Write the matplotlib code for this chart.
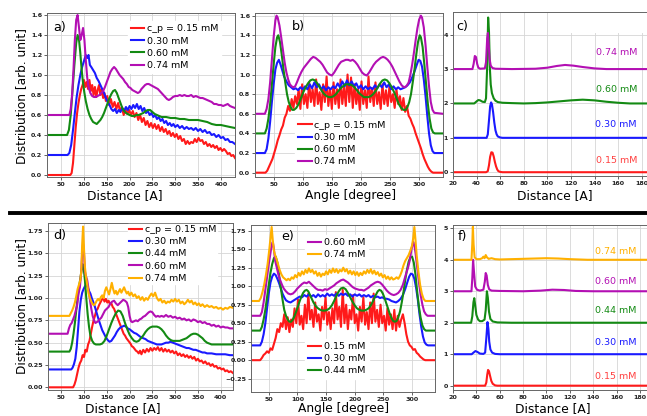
import matplotlib
matplotlib.use("Agg")
import matplotlib.pyplot as plt
from matplotlib.lines import Line2D
from matplotlib.patches import Rectangle

W, H = 647, 416
RED, BLUE, GREEN, PURPLE, ORANGE = "#ff1a1a", "#1a1aff", "#138a13", "#b30fb3", "#ffb000"
LW = 1.5

# ---------- panel a: distance distributions, first series ----------
A_X_015 = [19, 70, 73, 76, 79, 82, 85, 88, 91, 94, 97, 100, 103, 106, 109, 112, 115, 118, 121, 124,
           127, 130, 133, 136, 139, 142, 145, 148, 151, 155, 159, 163, 167, 171, 175, 179, 183, 187,
           191, 195, 199, 203, 207, 211, 215, 219, 223, 227, 231, 235, 239, 243, 247, 251, 255, 259,
           263, 267, 271, 275, 279, 283, 287, 291, 295, 299, 303, 307, 311, 315, 319, 323, 327, 331,
           335, 339, 343, 347, 351, 355, 359, 363, 367, 371, 375, 379, 383, 387, 391, 395, 399, 403,
           407, 411, 415, 419, 423, 427, 431]
A_Y_015 = [0, 0, 0.02, 0.12, 0.3, 0.48, 0.62, 0.72, 0.8, 0.86, 0.9, 0.95, 0.88, 0.93, 0.86, 0.95, 0.84,
           0.9, 0.8, 0.88, 0.78, 0.85, 0.9, 0.8, 0.86, 0.77, 0.82, 0.74, 0.79, 0.7, 0.76, 0.68, 0.73,
           0.66, 0.72, 0.64, 0.68, 0.6, 0.66, 0.61, 0.65, 0.6, 0.64, 0.58, 0.62, 0.55, 0.6, 0.53, 0.57,
           0.5, 0.54, 0.48, 0.52, 0.47, 0.51, 0.46, 0.5, 0.44, 0.48, 0.43, 0.46, 0.41, 0.44, 0.39, 0.42,
           0.38, 0.41, 0.36, 0.39, 0.34, 0.36, 0.31, 0.34, 0.31, 0.33, 0.32, 0.36, 0.33, 0.37, 0.34,
           0.35, 0.31, 0.33, 0.29, 0.31, 0.28, 0.3, 0.27, 0.29, 0.25, 0.27, 0.24, 0.26, 0.24, 0.21,
           0.22, 0.19, 0.2, 0.17]
A_X_030 = [19, 64, 68, 72, 76, 80, 84, 88, 92, 96, 100, 104, 107, 110, 113, 116, 120, 124, 128, 132,
           136, 140, 144, 148, 152, 156, 160, 164, 168, 172, 176, 180, 184, 188, 192, 196, 200, 204,
           208, 212, 216, 220, 224, 228, 232, 236, 240, 244, 248, 252, 256, 260, 264, 268, 272, 276,
           280, 284, 288, 292, 296, 300, 305, 310, 315, 320, 325, 330, 335, 340, 345, 350, 355, 360,
           365, 370, 375, 380, 385, 390, 395, 400, 405, 410, 415, 420, 425, 431]
A_Y_030 = [0.2, 0.2, 0.22, 0.3, 0.45, 0.62, 0.78, 0.9, 1.0, 1.08, 1.14, 1.2, 1.17, 1.2, 1.1, 1.08, 1.05,
           1.02, 0.97, 0.94, 0.9, 0.86, 0.82, 0.77, 0.73, 0.7, 0.66, 0.64, 0.66, 0.62, 0.65, 0.63,
           0.67, 0.64, 0.68, 0.65, 0.69, 0.66, 0.7, 0.67, 0.71, 0.66, 0.69, 0.64, 0.67, 0.62, 0.64,
           0.6, 0.62, 0.58, 0.6, 0.56, 0.58, 0.54, 0.56, 0.52, 0.54, 0.5, 0.52, 0.49, 0.51, 0.48,
           0.5, 0.47, 0.49, 0.46, 0.48, 0.46, 0.47, 0.45, 0.47, 0.44, 0.46, 0.43, 0.45, 0.42, 0.43,
           0.4, 0.41, 0.38, 0.4, 0.37, 0.38, 0.35, 0.36, 0.33, 0.33, 0.31]
A_X_060 = [19, 63, 67, 71, 75, 79, 83, 86, 89, 92, 95, 98, 101, 104, 108, 112, 116, 120, 124, 128, 132,
           136, 140, 144, 148, 152, 156, 160, 164, 168, 172, 176, 180, 184, 188, 192, 196, 200, 205,
           210, 215, 220, 225, 230, 235, 240, 245, 250, 255, 260, 265, 270, 280, 290, 300, 310, 320,
           330, 340, 350, 360, 370, 380, 390, 400, 410, 420, 431]
A_Y_060 = [0.4, 0.4, 0.45, 0.6, 0.85, 1.1, 1.32, 1.4, 1.36, 1.22, 1.05, 0.92, 0.82, 0.74, 0.66, 0.6,
           0.56, 0.53, 0.52, 0.51, 0.53, 0.55, 0.58, 0.62, 0.67, 0.72, 0.77, 0.81, 0.84, 0.85, 0.82,
           0.77, 0.72, 0.67, 0.64, 0.62, 0.61, 0.6, 0.59, 0.59, 0.6, 0.6, 0.61, 0.62, 0.64, 0.65,
           0.65, 0.63, 0.61, 0.6, 0.59, 0.58, 0.58, 0.57, 0.57, 0.56, 0.56, 0.55, 0.55, 0.55, 0.54,
           0.53, 0.51, 0.5, 0.5, 0.49, 0.48, 0.47]
A_X_074 = [19, 68, 71, 74, 77, 80, 83, 86, 89, 92, 95, 98, 101, 104, 107, 110, 114, 118, 122, 126, 130,
           134, 138, 142, 146, 150, 154, 158, 162, 166, 170, 174, 178, 182, 186, 190, 194, 198, 202,
           206, 210, 214, 218, 222, 226, 230, 234, 238, 242, 246, 250, 254, 258, 262, 266, 270, 274,
           278, 282, 286, 290, 295, 300, 305, 310, 315, 320, 325, 330, 335, 340, 345, 350, 355, 360,
           365, 370, 375, 380, 385, 390, 395, 400, 405, 410, 415, 420, 425, 431]
A_Y_074 = [0.6, 0.6, 0.66, 0.8, 1.05, 1.35, 1.55, 1.6, 1.48, 1.35, 1.4, 1.47, 1.35, 1.15, 0.98, 0.88,
           0.82, 0.79, 0.78, 0.78, 0.79, 0.8, 0.82, 0.84, 0.88, 0.93, 0.98, 1.03, 1.06, 1.08, 1.06,
           1.03, 1.0, 0.98, 0.96, 0.93, 0.91, 0.88, 0.87, 0.85, 0.84, 0.83, 0.82, 0.83, 0.86, 0.88,
           0.9, 0.91, 0.91, 0.9, 0.89, 0.88, 0.87, 0.86, 0.84, 0.82, 0.8, 0.78, 0.76, 0.75, 0.76,
           0.78, 0.79, 0.79, 0.8, 0.79, 0.8, 0.79, 0.79, 0.8, 0.78, 0.79, 0.78, 0.77, 0.77, 0.76,
           0.75, 0.74, 0.73, 0.71, 0.71, 0.7, 0.7, 0.69, 0.7, 0.71, 0.69, 0.68, 0.67]

# ---------- panel b: angle distributions, first series ----------
B_X_015 = [18, 36, 39, 42, 45, 48, 51, 54, 57, 60, 63, 66, 69, 72, 75, 78, 81, 84, 87, 90, 93, 96, 99,
           102, 105, 108, 111, 114, 117, 120, 123, 126, 129, 132, 135, 138, 141, 144, 147, 150, 153,
           156, 159, 162, 165, 168, 171, 174, 177, 180, 183, 186, 189, 192, 195, 198, 201, 204, 207,
           210, 213, 216, 219, 222, 225, 228, 231, 234, 237, 240, 243, 246, 249, 252, 255, 258, 261,
           264, 267, 270, 273, 276, 279, 282, 285, 288, 291, 294, 297, 300, 303, 306, 309, 312, 315,
           318, 321, 324, 341]
B_Y_015 = [0, 0, 0.02, 0.06, 0.1, 0.14, 0.2, 0.26, 0.33, 0.38, 0.44, 0.48, 0.56, 0.6, 0.68, 0.63, 0.75,
           0.66, 0.78, 0.7, 0.85, 0.65, 0.9, 0.7, 0.8, 0.66, 0.92, 0.72, 0.85, 0.68, 0.95, 0.7, 0.82,
           0.64, 0.9, 0.72, 0.98, 0.68, 0.85, 0.65, 0.92, 0.7, 0.85, 0.66, 0.95, 0.7, 0.88, 0.68, 1.0,
           0.72, 0.97, 0.66, 0.9, 0.7, 0.85, 0.64, 0.93, 0.7, 0.84, 0.66, 0.98, 0.72, 0.86, 0.68,
           0.92, 0.7, 0.82, 0.65, 0.9, 0.7, 0.84, 0.68, 0.88, 0.72, 0.8, 0.66, 0.85, 0.7, 0.78, 0.64,
           0.76, 0.62, 0.68, 0.58, 0.55, 0.5, 0.46, 0.4, 0.35, 0.3, 0.25, 0.19, 0.14, 0.1, 0.06, 0.03,
           0.01, 0, 0]
B_X_030 = [18, 35, 38, 41, 44, 47, 50, 53, 56, 59, 62, 65, 68, 72, 76, 80, 84, 88, 92, 96, 100, 104,
           108, 112, 116, 120, 124, 128, 132, 136, 140, 144, 148, 152, 156, 160, 164, 168, 172, 176,
           180, 184, 188, 192, 196, 200, 204, 208, 212, 216, 220, 224, 228, 232, 236, 240, 244, 248,
           252, 256, 260, 264, 268, 272, 276, 280, 284, 288, 292, 296, 299, 302, 305, 308, 311, 314,
           317, 320, 323, 326, 341]
B_Y_030 = [0.2, 0.2, 0.24, 0.35, 0.52, 0.72, 0.9, 1.05, 1.12, 1.15, 1.1, 1.04, 0.98, 0.93, 0.89, 0.87,
           0.85, 0.86, 0.84, 0.87, 0.85, 0.88, 0.85, 0.9, 0.86, 0.92, 0.87, 0.9, 0.85, 0.88, 0.84,
           0.87, 0.85, 0.88, 0.86, 0.91, 0.87, 0.93, 0.88, 0.94, 0.89, 0.93, 0.88, 0.91, 0.86, 0.89,
           0.85, 0.88, 0.85, 0.87, 0.85, 0.89, 0.86, 0.9, 0.87, 0.92, 0.87, 0.9, 0.85, 0.88, 0.85,
           0.87, 0.85, 0.86, 0.87, 0.89, 0.92, 0.97, 1.03, 1.1, 1.15, 1.14, 1.08, 0.95, 0.78, 0.58,
           0.4, 0.28, 0.22, 0.2, 0.2]
B_X_060 = [18, 35, 38, 41, 44, 47, 50, 53, 56, 58, 61, 64, 67, 70, 73, 76, 79, 82, 85, 89, 93, 97, 101,
           105, 109, 113, 117, 121, 125, 129, 133, 137, 141, 145, 149, 153, 157, 161, 165, 169, 173,
           177, 181, 185, 189, 193, 197, 201, 205, 209, 213, 217, 221, 225, 229, 233, 237, 241, 245,
           249, 253, 257, 261, 265, 269, 273, 277, 280, 283, 286, 289, 292, 295, 298, 301, 303, 306,
           309, 312, 315, 318, 321, 324, 327, 341]
B_Y_060 = [0.4, 0.4, 0.45, 0.55, 0.7, 0.9, 1.1, 1.28, 1.38, 1.4, 1.33, 1.2, 1.05, 0.92, 0.8, 0.72, 0.67,
           0.64, 0.64, 0.66, 0.7, 0.76, 0.82, 0.87, 0.91, 0.94, 0.95, 0.94, 0.91, 0.87, 0.83, 0.8,
           0.78, 0.77, 0.77, 0.78, 0.8, 0.83, 0.86, 0.88, 0.9, 0.9, 0.9, 0.89, 0.87, 0.84, 0.81,
           0.79, 0.77, 0.77, 0.77, 0.78, 0.8, 0.83, 0.87, 0.91, 0.94, 0.95, 0.94, 0.91, 0.87, 0.82,
           0.76, 0.7, 0.66, 0.64, 0.64, 0.67, 0.72, 0.8, 0.92, 1.05, 1.2, 1.33, 1.4, 1.38, 1.28, 1.1,
           0.9, 0.7, 0.55, 0.45, 0.41, 0.4, 0.4]
B_X_074 = [18, 35, 38, 41, 44, 47, 50, 53, 55, 57, 60, 63, 66, 69, 72, 75, 78, 81, 84, 87, 90, 94, 98,
           102, 106, 110, 114, 118, 122, 126, 130, 134, 138, 142, 146, 150, 154, 158, 162, 166, 170,
           174, 178, 182, 186, 190, 194, 198, 202, 206, 210, 214, 218, 222, 226, 230, 234, 238, 242,
           246, 250, 254, 258, 262, 266, 270, 274, 278, 282, 285, 288, 291, 294, 297, 300, 303, 305,
           308, 311, 314, 317, 320, 323, 326, 341]
B_Y_074 = [0.6, 0.6, 0.65, 0.75, 0.92, 1.15, 1.38, 1.55, 1.6, 1.58, 1.5, 1.38, 1.25, 1.12, 1.02, 0.95,
           0.9, 0.88, 0.87, 0.88, 0.92, 0.98, 1.03, 1.07, 1.1, 1.13, 1.16, 1.18, 1.17, 1.15, 1.13,
           1.1, 1.06, 1.02, 1.0, 0.99, 1.02, 1.06, 1.1, 1.13, 1.14, 1.15, 1.15, 1.14, 1.15, 1.13,
           1.1, 1.06, 1.02, 1.0, 0.99, 1.02, 1.06, 1.1, 1.13, 1.15, 1.17, 1.18, 1.17, 1.15, 1.12,
           1.08, 1.03, 0.98, 0.93, 0.89, 0.87, 0.88, 0.92, 1.0, 1.1, 1.22, 1.35, 1.47, 1.56, 1.6,
           1.58, 1.48, 1.3, 1.08, 0.88, 0.72, 0.64, 0.61, 0.6]

# ---------- panel c: distance peaks, first series ----------
C_X_015 = [20, 48, 49.5, 50.5, 51.5, 52.5, 53.5, 54.5, 55.5, 56.5, 57.5, 58.5, 60, 62, 185]
C_Y_015 = [0, 0, 0.03, 0.2, 0.45, 0.58, 0.57, 0.46, 0.3, 0.17, 0.08, 0.03, 0.01, 0, 0]
C_X_030 = [20, 48.5, 49.5, 50.5, 51.5, 52.3, 53, 54, 55, 56, 57, 58, 60, 62, 185]
C_Y_030 = [1, 1, 1.1, 1.5, 1.92, 2.03, 1.98, 1.75, 1.45, 1.22, 1.1, 1.04, 1.01, 1.0, 1.0]
C_X_060 = [20, 38, 40, 41.5, 43, 45, 47, 48, 49, 49.8, 50.5, 51.3, 52, 53, 54.5, 56, 58, 62, 70, 80,
           90, 100, 110, 120, 130, 140, 150, 160, 170, 185]
C_Y_060 = [2, 2, 2.06, 2.1, 2.09, 2.05, 2.04, 2.15, 3.1, 4.5, 4.1, 3.0, 2.55, 2.3, 2.15, 2.08, 2.04,
           2.02, 2.01, 2.0, 2.01, 2.03, 2.06, 2.09, 2.11, 2.09, 2.05, 2.02, 2.0, 2.0]
C_X_074 = [20, 36.5, 37.5, 38.5, 39.5, 40.5, 41.5, 43, 47, 48, 49, 49.6, 50.3, 51, 52, 53.5, 56, 70,
           90, 100, 108, 115, 122, 130, 140, 150, 185]
C_Y_074 = [3, 3, 3.15, 3.38, 3.35, 3.15, 3.04, 3.01, 3.02, 3.2, 3.9, 4.05, 3.7, 3.3, 3.1, 3.03, 3.01,
           3.0, 3.01, 3.04, 3.09, 3.12, 3.1, 3.06, 3.02, 3.0, 3.0]

# ---------- panel d: distance distributions, second series ----------
D_X_015 = [21, 76, 79, 82, 85, 88, 91, 94, 97, 100, 103, 106, 109, 112, 115, 118, 121, 124, 127, 130,
           133, 136, 139, 142, 145, 148, 151, 154, 157, 160, 163, 166, 169, 172, 175, 178, 181, 184,
           187, 190, 193, 196, 199, 202, 205, 208, 211, 214, 217, 220, 223, 226, 230, 234, 238, 242,
           246, 250, 254, 258, 262, 266, 270, 274, 278, 282, 286, 290, 294, 298, 302, 306, 310, 314,
           318, 322, 326, 330, 334, 338, 342, 346, 350, 354, 358, 362, 366, 370, 374, 378, 382, 386,
           390, 394, 398, 402, 406, 410, 414, 418, 422, 427]
D_Y_015 = [0, 0, 0.03, 0.08, 0.15, 0.22, 0.27, 0.3, 0.36, 0.34, 0.42, 0.4, 0.48, 0.52, 0.6, 0.68, 0.75,
           0.8, 0.86, 0.88, 0.92, 0.95, 0.98, 1.0, 0.96, 0.99, 0.95, 0.97, 0.93, 0.94, 0.9, 0.88,
           0.84, 0.8, 0.76, 0.72, 0.68, 0.64, 0.6, 0.58, 0.55, 0.53, 0.51, 0.49, 0.46, 0.45, 0.43,
           0.41, 0.4, 0.38, 0.41, 0.37, 0.42, 0.39, 0.43, 0.4, 0.44, 0.41, 0.44, 0.42, 0.45, 0.41,
           0.44, 0.4, 0.43, 0.4, 0.42, 0.39, 0.41, 0.38, 0.4, 0.36, 0.38, 0.35, 0.37, 0.34, 0.36,
           0.33, 0.35, 0.32, 0.34, 0.3, 0.32, 0.29, 0.3, 0.27, 0.29, 0.26, 0.27, 0.24, 0.26, 0.23,
           0.24, 0.21, 0.22, 0.2, 0.21, 0.18, 0.19, 0.17, 0.18, 0.16]
D_X_030 = [21, 72, 75, 78, 81, 84, 87, 90, 93, 96, 99, 102, 105, 108, 111, 114, 117, 120, 124, 128, 132,
           136, 140, 144, 148, 152, 156, 160, 164, 168, 172, 176, 180, 184, 188, 192, 196, 200, 205,
           210, 215, 220, 225, 230, 235, 240, 245, 250, 255, 260, 265, 270, 275, 280, 285, 290, 295,
           300, 305, 310, 315, 320, 325, 330, 335, 340, 345, 350, 355, 360, 365, 370, 380, 390, 400,
           410, 420, 427]
D_Y_030 = [0.2, 0.2, 0.22, 0.26, 0.32, 0.45, 0.65, 0.85, 0.98, 1.06, 1.1, 1.13, 1.15, 1.12, 1.08, 1.05,
           1.0, 0.96, 0.9, 0.83, 0.76, 0.7, 0.64, 0.6, 0.56, 0.53, 0.51, 0.52, 0.55, 0.58, 0.62, 0.65,
           0.67, 0.68, 0.69, 0.68, 0.66, 0.65, 0.63, 0.61, 0.6, 0.58, 0.56, 0.55, 0.54, 0.52, 0.51,
           0.5, 0.49, 0.48, 0.48, 0.48, 0.49, 0.5, 0.5, 0.51, 0.5, 0.49, 0.48, 0.47, 0.46, 0.45,
           0.44, 0.44, 0.43, 0.42, 0.42, 0.41, 0.4, 0.39, 0.39, 0.38, 0.38, 0.37, 0.37, 0.37, 0.36,
           0.36]
D_X_044 = [21, 68, 71, 74, 77, 80, 83, 86, 89, 92, 95, 97, 99, 102, 105, 108, 111, 114, 118, 122, 126,
           130, 135, 140, 145, 150, 155, 160, 165, 170, 175, 180, 185, 190, 195, 200, 205, 210, 215,
           220, 225, 230, 235, 240, 245, 250, 255, 260, 265, 270, 275, 280, 285, 290, 295, 300, 305,
           310, 315, 320, 325, 330, 335, 340, 345, 350, 355, 360, 365, 370, 375, 380, 390, 400, 410,
           420, 427]
D_Y_044 = [0.4, 0.4, 0.43, 0.5, 0.6, 0.72, 0.86, 1.0, 1.12, 1.22, 1.32, 1.38, 1.35, 1.2, 1.0, 0.82,
           0.68, 0.58, 0.52, 0.49, 0.48, 0.48, 0.48, 0.49, 0.52, 0.58, 0.65, 0.72, 0.78, 0.83, 0.86,
           0.85, 0.8, 0.72, 0.65, 0.59, 0.55, 0.52, 0.51, 0.52, 0.55, 0.58, 0.62, 0.65, 0.67, 0.68,
           0.68, 0.68, 0.67, 0.65, 0.62, 0.58, 0.55, 0.53, 0.52, 0.52, 0.52, 0.52, 0.53, 0.54, 0.55,
           0.57, 0.59, 0.6, 0.6, 0.59, 0.57, 0.55, 0.52, 0.5, 0.49, 0.48, 0.48, 0.48, 0.48, 0.48,
           0.48]
D_X_060 = [21, 64, 67, 70, 73, 76, 79, 82, 85, 88, 91, 94, 96, 98, 100, 102, 104, 107, 110, 113, 116,
           119, 122, 125, 128, 131, 134, 138, 142, 146, 150, 154, 158, 162, 166, 170, 174, 178, 182,
           186, 190, 194, 197, 200, 203, 206, 210, 214, 218, 222, 226, 230, 234, 238, 242, 246, 250,
           254, 258, 262, 266, 270, 275, 280, 285, 290, 295, 300, 305, 310, 315, 320, 325, 330, 335,
           340, 345, 350, 355, 360, 365, 370, 375, 380, 385, 390, 395, 400, 405, 410, 415, 420, 427]
D_Y_060 = [0.6, 0.6, 0.66, 0.7, 0.72, 0.76, 0.8, 0.86, 0.92, 1.05, 1.12, 1.3, 1.5, 1.6, 1.5, 1.3, 1.25,
           1.2, 1.1, 0.98, 0.88, 0.8, 0.75, 0.72, 0.73, 0.74, 0.76, 0.78, 0.82, 0.86, 0.88, 0.9,
           0.94, 0.96, 0.97, 0.94, 0.92, 0.94, 0.96, 0.98, 0.97, 0.95, 0.9, 0.8, 0.74, 0.73, 0.74,
           0.75, 0.74, 0.76, 0.77, 0.79, 0.8, 0.82, 0.84, 0.85, 0.84, 0.81, 0.79, 0.8, 0.79, 0.8,
           0.79, 0.81, 0.79, 0.8, 0.78, 0.79, 0.77, 0.78, 0.76, 0.77, 0.75, 0.76, 0.74, 0.76, 0.75,
           0.73, 0.74, 0.72, 0.73, 0.71, 0.71, 0.69, 0.7, 0.68, 0.69, 0.67, 0.68, 0.67, 0.67, 0.66,
           0.66]
D_X_074 = [21, 68, 71, 74, 77, 80, 83, 86, 89, 92, 94, 96, 98, 100, 102, 104, 107, 110, 113, 116, 119,
           122, 125, 128, 131, 134, 137, 140, 143, 146, 149, 152, 155, 158, 161, 164, 167, 170, 173,
           176, 179, 182, 185, 188, 191, 194, 197, 200, 204, 208, 212, 216, 220, 224, 228, 232, 236,
           240, 244, 248, 252, 256, 260, 264, 268, 272, 276, 280, 284, 288, 292, 296, 300, 304, 308,
           312, 316, 320, 324, 328, 332, 336, 340, 344, 348, 352, 356, 360, 365, 370, 375, 380, 385,
           390, 395, 400, 405, 410, 415, 420, 427]
D_Y_074 = [0.8, 0.8, 0.83, 0.86, 0.9, 0.95, 1.02, 1.1, 1.15, 1.2, 1.3, 1.6, 1.8, 1.55, 1.35, 1.25, 1.15,
           1.05, 1.0, 0.96, 0.93, 0.92, 0.94, 0.97, 0.99, 0.97, 1.01, 1.03, 1.0, 1.08, 1.12, 1.08,
           1.04, 1.1, 1.17, 1.1, 1.05, 1.08, 1.04, 1.07, 1.1, 1.06, 1.09, 1.12, 1.08, 1.05, 1.07,
           1.03, 1.06, 1.02, 1.04, 1.0, 1.02, 0.98, 1.01, 0.97, 1.0, 0.98, 1.02, 1.05, 1.02, 1.06,
           1.0, 0.97, 0.99, 0.95, 0.97, 0.94, 0.96, 0.95, 0.98, 0.96, 0.99, 0.96, 0.98, 0.94, 0.96,
           0.93, 0.95, 0.98, 0.95, 0.97, 0.93, 0.95, 0.92, 0.94, 0.91, 0.93, 0.9, 0.92, 0.9, 0.91,
           0.89, 0.9, 0.88, 0.89, 0.87, 0.89, 0.88, 0.9, 0.89]

# ---------- panel e: angle distributions, second series ----------
E_X_015 = [19, 35, 38, 41, 44, 47, 50, 53, 56, 59, 62, 65, 68, 71, 74, 77, 80, 83, 86, 89, 92, 95, 98,
           101, 104, 107, 110, 113, 116, 119, 122, 125, 128, 131, 134, 137, 140, 143, 146, 149, 152,
           155, 158, 161, 164, 167, 170, 173, 176, 179, 182, 185, 188, 191, 194, 197, 200, 203, 206,
           209, 212, 215, 218, 221, 224, 227, 230, 233, 236, 239, 242, 245, 248, 251, 254, 257, 260,
           263, 266, 269, 272, 275, 278, 281, 284, 287, 290, 293, 296, 299, 302, 305, 308, 311, 314,
           317, 320, 323, 340]
E_Y_015 = [0, 0, 0.03, 0.07, 0.09, 0.12, 0.1, 0.16, 0.14, 0.22, 0.3, 0.42, 0.38, 0.5, 0.45, 0.62, 0.42,
           0.58, 0.38, 0.55, 0.45, 0.7, 0.5, 0.82, 0.48, 0.6, 0.42, 0.75, 0.5, 0.9, 0.55, 0.68, 0.45,
           0.78, 0.52, 0.62, 0.4, 0.72, 0.55, 0.85, 0.48, 0.65, 0.42, 0.7, 0.5, 0.92, 0.55, 0.72,
           0.45, 0.95, 0.5, 0.75, 0.42, 0.68, 0.55, 0.88, 0.5, 0.62, 0.4, 0.72, 0.52, 0.85, 0.48,
           0.65, 0.42, 0.78, 0.5, 0.9, 0.52, 0.68, 0.45, 0.75, 0.5, 0.6, 0.4, 0.7, 0.48, 0.62, 0.42,
           0.68, 0.4, 0.6, 0.45, 0.55, 0.62, 0.5, 0.35, 0.25, 0.2, 0.18, 0.14, 0.15, 0.1, 0.08, 0.05,
           0.03, 0.01, 0, 0]
E_X_030 = [19, 35, 38, 41, 44, 47, 50, 53, 56, 59, 62, 65, 68, 71, 74, 77, 80, 84, 88, 92, 96, 100, 104,
           108, 112, 116, 120, 124, 128, 132, 136, 140, 144, 148, 152, 156, 160, 164, 168, 172, 176,
           180, 184, 188, 192, 196, 200, 204, 208, 212, 216, 220, 224, 228, 232, 236, 240, 244, 248,
           252, 256, 260, 264, 268, 272, 276, 280, 284, 288, 292, 295, 298, 301, 304, 307, 310, 313,
           316, 319, 322, 325, 328, 340]
E_Y_030 = [0.2, 0.2, 0.25, 0.35, 0.5, 0.7, 0.9, 1.05, 1.13, 1.17, 1.15, 1.1, 1.04, 0.97, 0.9, 0.85, 0.81,
           0.79, 0.78, 0.8, 0.82, 0.84, 0.86, 0.85, 0.88, 0.86, 0.89, 0.86, 0.88, 0.85, 0.89, 0.86,
           0.88, 0.86, 0.9, 0.87, 0.89, 0.87, 0.9, 0.87, 0.9, 0.88, 0.9, 0.87, 0.89, 0.86, 0.89,
           0.87, 0.89, 0.86, 0.88, 0.86, 0.88, 0.85, 0.87, 0.85, 0.86, 0.84, 0.85, 0.83, 0.83, 0.82,
           0.8, 0.79, 0.78, 0.8, 0.83, 0.88, 0.96, 1.06, 1.13, 1.17, 1.16, 1.1, 0.98, 0.82, 0.62,
           0.45, 0.32, 0.24, 0.21, 0.2, 0.2]
E_X_044 = [19, 35, 38, 41, 44, 47, 50, 53, 56, 59, 62, 65, 68, 71, 74, 77, 80, 83, 86, 89, 92, 95, 98,
           101, 104, 107, 110, 113, 116, 119, 122, 125, 128, 132, 136, 140, 144, 148, 152, 156, 160,
           164, 168, 172, 176, 180, 184, 188, 192, 196, 200, 204, 208, 212, 216, 220, 224, 228, 232,
           236, 240, 243, 246, 249, 252, 255, 258, 261, 264, 267, 270, 273, 276, 279, 282, 285, 288,
           291, 294, 297, 300, 303, 306, 309, 312, 315, 318, 321, 324, 340]
E_Y_044 = [0.4, 0.4, 0.45, 0.55, 0.68, 0.85, 1.02, 1.18, 1.3, 1.38, 1.4, 1.32, 1.15, 0.98, 0.82, 0.68,
           0.6, 0.55, 0.52, 0.52, 0.55, 0.6, 0.66, 0.73, 0.8, 0.86, 0.91, 0.94, 0.95, 0.93, 0.88,
           0.83, 0.78, 0.73, 0.7, 0.68, 0.67, 0.67, 0.68, 0.7, 0.74, 0.8, 0.87, 0.93, 0.97, 0.98,
           0.96, 0.91, 0.85, 0.79, 0.74, 0.7, 0.68, 0.67, 0.67, 0.68, 0.7, 0.74, 0.8, 0.87, 0.93,
           0.95, 0.94, 0.9, 0.84, 0.77, 0.7, 0.63, 0.57, 0.53, 0.52, 0.53, 0.58, 0.66, 0.78, 0.92,
           1.08, 1.22, 1.33, 1.39, 1.4, 1.32, 1.15, 0.92, 0.72, 0.57, 0.47, 0.42, 0.4, 0.4]
E_X_060 = [19, 35, 38, 41, 44, 47, 50, 53, 55, 57, 59, 61, 64, 67, 70, 73, 76, 80, 84, 88, 92, 96, 100,
           104, 108, 112, 116, 120, 124, 128, 132, 136, 140, 144, 148, 152, 156, 160, 164, 168, 172,
           176, 180, 184, 188, 192, 196, 200, 204, 208, 212, 216, 220, 224, 228, 232, 236, 240, 244,
           248, 252, 256, 260, 264, 268, 272, 276, 280, 284, 287, 290, 293, 296, 299, 302, 304, 306,
           309, 312, 315, 318, 321, 324, 327, 340]
E_Y_060 = [0.6, 0.6, 0.65, 0.78, 0.95, 1.12, 1.3, 1.45, 1.55, 1.6, 1.5, 1.35, 1.25, 1.15, 1.08, 1.02,
           0.97, 0.93, 0.9, 0.89, 0.9, 0.93, 0.97, 1.0, 1.03, 1.05, 1.04, 1.06, 1.03, 1.0, 0.97, 0.95,
           0.95, 0.94, 0.96, 0.95, 0.97, 0.99, 1.01, 1.04, 1.06, 1.08, 1.09, 1.07, 1.05, 1.02, 0.99,
           0.97, 0.96, 0.95, 0.95, 0.94, 0.96, 0.98, 1.01, 1.03, 1.05, 1.06, 1.05, 1.02, 0.98, 0.94,
           0.91, 0.89, 0.88, 0.89, 0.91, 0.95, 1.02, 1.1, 1.18, 1.25, 1.35, 1.5, 1.6, 1.55, 1.45,
           1.25, 1.05, 0.88, 0.75, 0.66, 0.62, 0.6, 0.6]
E_X_074 = [19, 33, 36, 39, 42, 45, 48, 51, 53, 55, 57, 59, 61, 63, 66, 69, 72, 75, 78, 81, 84, 87, 90,
           93, 96, 99, 102, 105, 108, 111, 114, 117, 120, 123, 126, 129, 132, 135, 138, 141, 144, 147,
           150, 153, 156, 159, 162, 165, 168, 171, 174, 177, 180, 183, 186, 189, 192, 195, 198, 201,
           204, 207, 210, 213, 216, 219, 222, 225, 228, 231, 234, 237, 240, 243, 246, 249, 252, 255,
           258, 261, 264, 267, 270, 273, 276, 279, 282, 285, 288, 291, 294, 297, 300, 302, 304, 306,
           308, 311, 314, 317, 320, 323, 340]
E_Y_074 = [0.8, 0.8, 0.84, 0.92, 1.02, 1.15, 1.3, 1.5, 1.65, 1.8, 1.62, 1.48, 1.42, 1.38, 1.3, 1.22,
           1.16, 1.12, 1.1, 1.08, 1.1, 1.08, 1.12, 1.1, 1.15, 1.12, 1.18, 1.14, 1.2, 1.16, 1.22, 1.18,
           1.24, 1.19, 1.22, 1.17, 1.2, 1.14, 1.18, 1.13, 1.17, 1.15, 1.2, 1.16, 1.22, 1.18, 1.24,
           1.19, 1.23, 1.18, 1.22, 1.2, 1.25, 1.2, 1.23, 1.17, 1.21, 1.16, 1.2, 1.15, 1.19, 1.14,
           1.18, 1.15, 1.2, 1.17, 1.22, 1.18, 1.23, 1.17, 1.21, 1.16, 1.19, 1.14, 1.17, 1.12, 1.15,
           1.1, 1.13, 1.09, 1.12, 1.09, 1.1, 1.12, 1.1, 1.14, 1.2, 1.28, 1.34, 1.38, 1.42, 1.48,
           1.55, 1.65, 1.8, 1.62, 1.42, 1.2, 1.02, 0.9, 0.83, 0.8, 0.8]

# ---------- panel f: distance peaks, second series ----------
F_X_015 = [20, 47.5, 48.5, 49.3, 50, 50.8, 51.8, 52.8, 54, 56, 58, 186]
F_Y_015 = [0, 0, 0.1, 0.35, 0.5, 0.46, 0.3, 0.15, 0.06, 0.01, 0, 0]
F_X_030 = [20, 36, 37.5, 39.2, 41, 43, 46, 47.5, 48.5, 49.5, 50.3, 51, 52, 53.5, 56, 60, 186]
F_Y_030 = [1, 1, 1.05, 1.1, 1.07, 1.02, 1.01, 1.05, 1.5, 2.02, 1.8, 1.4, 1.15, 1.05, 1.01, 1.0, 1.0]
F_X_044 = [20, 35.5, 36.5, 37.5, 38.2, 39, 40, 41.5, 43, 45, 47, 48, 49, 49.8, 50.8, 52, 54, 58, 70, 186]
F_Y_044 = [2, 2, 2.2, 2.65, 2.78, 2.55, 2.25, 2.1, 2.05, 2.05, 2.1, 2.4, 3.0, 2.8, 2.35, 2.12, 2.04,
           2.01, 2.0, 2.0]
F_X_060 = [20, 35.8, 36.5, 37.2, 38, 39, 40.5, 43, 46, 47.2, 48, 48.8, 49.8, 51, 53, 60, 80, 95, 105,
           115, 125, 140, 186]
F_Y_060 = [3, 3, 3.4, 4.0, 3.6, 3.15, 3.05, 3.02, 3.05, 3.3, 3.58, 3.5, 3.2, 3.06, 3.02, 3.01, 3.0,
           3.02, 3.05, 3.04, 3.01, 3.0, 3.0]
F_X_074 = [20, 35.8, 36.5, 37, 37.6, 38.5, 40, 43, 45, 46, 47, 48, 49, 50.5, 53, 56, 60, 70, 80, 90,
           100, 110, 120, 135, 186]
F_Y_074 = [4, 4, 4.5, 5.05, 4.5, 4.08, 4.02, 4.02, 4.05, 4.1, 4.05, 4.15, 4.08, 4.03, 4.05, 4.02, 4.01,
           4.02, 4.03, 4.04, 4.05, 4.04, 4.02, 4.0, 4.0]

LABELS_TOP = ["c_p = 0.15 mM", "0.30 mM", "0.60 mM", "0.74 mM"]
LABELS_BOTTOM = ["c_p = 0.15 mM", "0.30 mM", "0.44 mM", "0.60 mM", "0.74 mM"]
C_TEXT = ["0.15 mM", "0.30 mM", "0.60 mM", "0.74 mM"]
C_TEXT_Y = [0.33, 1.40, 2.42, 3.47]
F_TEXT = ["0.15 mM", "0.30 mM", "0.44 mM", "0.60 mM", "0.74 mM"]
F_TEXT_Y = [0.29, 1.38, 2.38, 3.32, 4.25]

plt.rcParams["font.family"] = ["DejaVu Sans"]
fig = plt.figure(figsize=(W / 100, H / 100), dpi=100)


def make_axes(l, t, r, b):
    return fig.add_axes([l / W, 1 - b / H, (r - l) / W, (b - t) / H])


def style(ax, xlim, ylim, xticks, yticks, yfmt):
    ax.set_xlim(*xlim)
    ax.set_ylim(*ylim)
    ax.set_xticks(xticks)
    ax.set_yticks(yticks)
    ax.set_xticklabels([str(v) for v in xticks])
    ax.set_yticklabels([yfmt.format(v).replace("-", "\u2212") for v in yticks])
    ax.grid(True, color="#d6d6d6", lw=0.6)
    ax.tick_params(labelsize=4.6, length=2, width=0.5, pad=1.5, colors="#222222")
    for lab in ax.get_xticklabels() + ax.get_yticklabels():
        lab.set_fontweight("bold")
    for sp in ax.spines.values():
        sp.set_color("#666666")
        sp.set_linewidth(0.7)


def legend(ax, handles, labels, anchor, pad=0.35):
    return ax.legend(handles, labels, loc="upper left", bbox_to_anchor=anchor, fontsize=6.8,
                     handlelength=1.4, handletextpad=0.25, labelspacing=0.34, borderpad=pad,
                     borderaxespad=0, frameon=True, fancybox=False, framealpha=1,
                     edgecolor="white", facecolor="white")


def panel_label(ax, txt, x, y):
    ax.text(x, y, txt, transform=ax.transAxes, fontsize=9.2, va="center", ha="left")


# ----- a -----
ax = make_axes(47, 13, 235, 177)
la = [ax.plot(A_X_015, A_Y_015, color=RED, lw=LW)[0],
      ax.plot(A_X_030, A_Y_030, color=BLUE, lw=LW)[0],
      ax.plot(A_X_060, A_Y_060, color=GREEN, lw=LW)[0],
      ax.plot(A_X_074, A_Y_074, color=PURPLE, lw=LW)[0]]
style(ax, (19, 431), (-0.02, 1.62), list(range(50, 401, 50)),
      [0, 0.2, 0.4, 0.6, 0.8, 1.0, 1.2, 1.4, 1.6], "{:.1f}")
legend(ax, la, LABELS_TOP, (0.43, 0.951))
panel_label(ax, "a)", 0.034, 0.912)

# ----- b -----
ax = make_axes(255, 13, 443, 177)
lb = [ax.plot(B_X_015, B_Y_015, color=RED, lw=LW)[0],
      ax.plot(B_X_030, B_Y_030, color=BLUE, lw=LW)[0],
      ax.plot(B_X_060, B_Y_060, color=GREEN, lw=LW)[0],
      ax.plot(B_X_074, B_Y_074, color=PURPLE, lw=LW)[0]]
style(ax, (18, 341), (-0.044, 1.627), list(range(50, 301, 50)),
      [0, 0.2, 0.4, 0.6, 0.8, 1.0, 1.2, 1.4, 1.6], "{:.1f}")
legend(ax, lb, LABELS_TOP, (0.213, 0.363))
panel_label(ax, "b)", 0.195, 0.916)

# ----- c -----
ax = make_axes(453, 12, 647, 176)
for xs, ys, col in [(C_X_015, C_Y_015, RED), (C_X_030, C_Y_030, BLUE),
                    (C_X_060, C_Y_060, GREEN), (C_X_074, C_Y_074, PURPLE)]:
    ax.plot(xs, ys, color=col, lw=LW)
style(ax, (20, 184.5), (-0.11, 4.66), list(range(20, 181, 20)), [0, 1, 2, 3, 4], "{:d}")
ax.add_patch(Rectangle((0.588, 0.872), 0.412, 0.128, transform=ax.transAxes,
                       facecolor="white", edgecolor="none", zorder=1.6))
for txt, yv, col in zip(C_TEXT, C_TEXT_Y, ["#ff4040", BLUE, GREEN, PURPLE]):
    ax.text(176, yv, txt, color=col, fontsize=6.8, ha="right", va="center")
panel_label(ax, "c)", 0.019, 0.909)

# ----- d -----
ax = make_axes(48, 223, 233, 390)
ld = [ax.plot(D_X_015, D_Y_015, color=RED, lw=LW)[0],
      ax.plot(D_X_030, D_Y_030, color=BLUE, lw=LW)[0],
      ax.plot(D_X_044, D_Y_044, color=GREEN, lw=LW)[0],
      ax.plot(D_X_060, D_Y_060, color=PURPLE, lw=LW)[0],
      ax.plot(D_X_074, D_Y_074, color=ORANGE, lw=LW)[0]]
style(ax, (21, 427), (-0.03, 1.84), list(range(50, 401, 50)),
      [0, 0.25, 0.5, 0.75, 1.0, 1.25, 1.5, 1.75], "{:.2f}")
legend(ax, ld, LABELS_BOTTOM, (0.432, 0.995), pad=0.12)
panel_label(ax, "d)", 0.029, 0.928)

# ----- e -----
ax = make_axes(251, 225, 435, 392)
le = [ax.plot(E_X_015, E_Y_015, color=RED, lw=LW)[0],
      ax.plot(E_X_030, E_Y_030, color=BLUE, lw=LW)[0],
      ax.plot(E_X_044, E_Y_044, color=GREEN, lw=LW)[0],
      ax.plot(E_X_060, E_Y_060, color=PURPLE, lw=LW)[0],
      ax.plot(E_X_074, E_Y_074, color=ORANGE, lw=LW)[0]]
style(ax, (19, 340), (-0.43, 1.827), list(range(50, 301, 50)),
      [-0.25, 0, 0.25, 0.5, 0.75, 1.0, 1.25, 1.5, 1.75], "{:.2f}")
upper = legend(ax, le[3:], ["0.60 mM", "0.74 mM"], (0.293, 0.943))
ax.add_artist(upper)
legend(ax, le[:3], ["0.15 mM", "0.30 mM", "0.44 mM"], (0.293, 0.32))
panel_label(ax, "e)", 0.167, 0.934)

# ----- f -----
ax = make_axes(453, 225, 647, 390)
for xs, ys, col in [(F_X_015, F_Y_015, RED), (F_X_030, F_Y_030, BLUE), (F_X_044, F_Y_044, GREEN),
                    (F_X_060, F_Y_060, PURPLE), (F_X_074, F_Y_074, ORANGE)]:
    ax.plot(xs, ys, color=col, lw=LW)
style(ax, (20, 186), (-0.137, 5.105), list(range(20, 181, 20)), [0, 1, 2, 3, 4, 5], "{:d}")
for txt, yv, col in zip(F_TEXT, F_TEXT_Y, ["#ff4040", BLUE, GREEN, PURPLE, ORANGE]):
    ax.text(177, yv, txt, color=col, fontsize=6.8, ha="right", va="center")
panel_label(ax, "f)", 0.026, 0.929)

# ----- shared labels and separator -----
for xc, yc, txt in [(124.5, 196, "Distance [A]"), (350.5, 196, "Angle [degree]"),
                    (554.5, 196, "Distance [A]"), (123.3, 408.5, "Distance [A]"),
                    (343.5, 408.5, "Angle [degree]"), (553, 408.5, "Distance [A]")]:
    fig.text(xc / W, 1 - yc / H, txt, fontsize=8.8, ha="center", va="center")
for yc in (96, 306):
    fig.text(22 / W, 1 - yc / H, "Distribution [arb. unit]", fontsize=8.7, rotation=90,
             ha="center", va="center")
fig.add_artist(Line2D([10 / W, 1.0], [1 - 213 / H, 1 - 213 / H], color="black", lw=2.8))

fig.savefig("out.png", dpi=100)
